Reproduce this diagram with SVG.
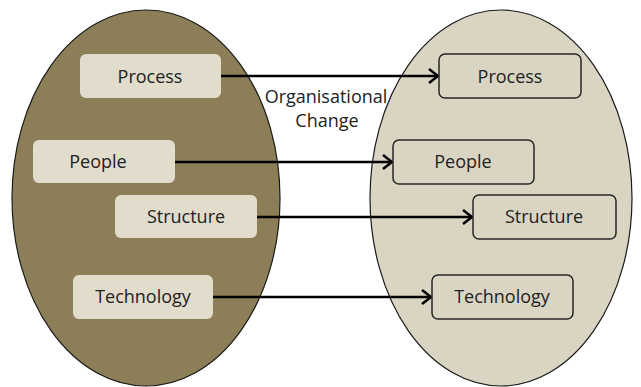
<svg xmlns="http://www.w3.org/2000/svg" width="641" height="387" viewBox="0 0 641 387">
<defs>
<style>
.t{font-family:"Open Sans","Liberation Sans",sans-serif;font-size:18px;fill:#222;text-anchor:middle}
.lb{fill:#e1dccb}
.rb{fill:#dad5c2;stroke:#262626;stroke-width:1.5}
.c{stroke:#000;stroke-width:2.5;fill:none}
</style>
<marker id="ah" markerUnits="userSpaceOnUse" markerWidth="16" markerHeight="18" refX="12" refY="9" orient="auto">
<path d="M3,2 L12,9 L3,16" fill="none" stroke="#000" stroke-width="2.5"/>
</marker>
</defs>
<rect width="641" height="387" fill="#fff"/>
<ellipse id="left" cx="146" cy="198" rx="134" ry="188" fill="#8c7f57" stroke="#1a1a1a" stroke-width="1.2"/>
<ellipse id="right" cx="501" cy="198" rx="131" ry="188" fill="#dad5c2" stroke="#1a1a1a" stroke-width="1.2"/>
<g id="connectors">
<line class="c" x1="221" y1="76" x2="438" y2="76" marker-end="url(#ah)"/>
<line class="c" x1="175" y1="162" x2="392" y2="162" marker-end="url(#ah)"/>
<line class="c" x1="257" y1="217" x2="472" y2="217" marker-end="url(#ah)"/>
<line class="c" x1="213" y1="297" x2="431" y2="297" marker-end="url(#ah)"/>
</g>
<g id="label">
<text class="t" x="326" y="103">Organisational</text>
<text class="t" x="327" y="127">Change</text>
</g>
<g id="l-process"><rect class="lb" x="80" y="54" width="141" height="44" rx="6"/><text class="t" x="150" y="83">Process</text></g>
<g id="l-people"><rect class="lb" x="33" y="140" width="142" height="43" rx="6"/><text class="t" x="98" y="168">People</text></g>
<g id="l-structure"><rect class="lb" x="115" y="195" width="142" height="43" rx="6"/><text class="t" x="186" y="223">Structure</text></g>
<g id="l-technology"><rect class="lb" x="73" y="275" width="140" height="44" rx="6"/><text class="t" x="143" y="303">Technology</text></g>
<g id="r-process"><rect class="rb" x="439" y="54" width="142" height="44" rx="6"/><text class="t" x="510" y="83">Process</text></g>
<g id="r-people"><rect class="rb" x="393" y="140" width="141" height="44" rx="6"/><text class="t" x="463" y="168">People</text></g>
<g id="r-structure"><rect class="rb" x="473" y="195" width="143" height="44" rx="6"/><text class="t" x="544" y="223">Structure</text></g>
<g id="r-technology"><rect class="rb" x="432" y="275" width="141" height="44" rx="6"/><text class="t" x="502" y="303">Technology</text></g>
</svg>
